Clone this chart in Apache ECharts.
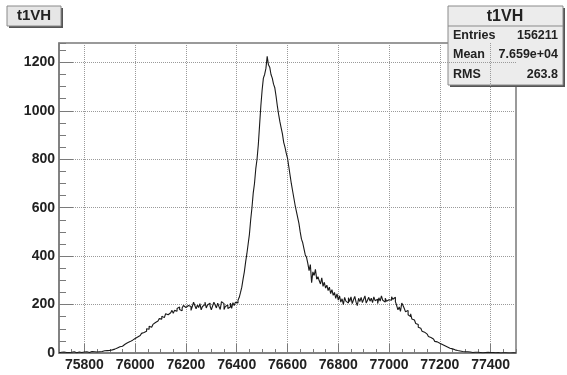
<!DOCTYPE html>
<html>
<head>
    <meta charset="utf-8">
    <title>t1VH</title>
    <script src="https://cdn.jsdelivr.net/npm/echarts@6/dist/echarts.min.js"></script>
    <style>html,body{margin:0;padding:0;background:#fff}</style>
</head>
<body>
    <div id="main" style="width:567px;height:375px"></div>
    <script type="text/javascript">
        // histogram data (bin width 5)
        var histName = 't1VH';
        var binStart = 75700;
        var binWidth = 5;
        var counts = [
            // 75700 - 75800
            1, 3, 2, 4, 1, 2, 3, 2, 4, 3, 2, 5, 3, 1, 2, 4, 1, 2, 3, 4,
            // 75800 - 75900
            3, 5, 4, 2, 5, 6, 3, 5, 7, 4, 6, 5, 8, 6, 5, 9, 7, 10, 8, 11,
            // 75900 - 76000
            10, 13, 12, 16, 15, 21, 22, 26, 25, 28, 30, 36, 34, 42, 43, 47, 49, 53, 55, 60,
            // 76000 - 76100
            58, 66, 68, 72, 71, 81, 85, 91, 90, 100, 98, 110, 106, 114, 118, 126, 124, 132, 130, 142,
            // 76100 - 76200
            140, 152, 146, 154, 162, 158, 150, 166, 168, 176, 164, 176, 172, 184, 190, 180, 174, 186, 196, 188,
            // 76200 - 76300
            180, 196, 204, 192, 176, 192, 210, 196, 182, 198, 188, 204, 178, 192, 200, 210, 186, 198, 206, 194,
            // 76300 - 76400
            178, 194, 210, 198, 186, 206, 192, 180, 212, 204, 180, 192, 198, 184, 190, 206, 184, 208, 196, 210,
            // 76400 - 76500
            206, 218, 230, 250, 272, 305, 335, 375, 410, 450, 490, 550, 600, 660, 700, 760, 800, 860, 940, 1020,
            // 76500 - 76600
            1085, 1135, 1150, 1175, 1225, 1190, 1180, 1150, 1135, 1110, 1095, 1060, 1020, 985, 955, 930, 905, 870, 850, 825,
            // 76600 - 76700
            805, 770, 735, 700, 670, 640, 610, 585, 560, 535, 500, 470, 455, 430, 405, 395, 370, 340, 365, 290,
            // 76700 - 76800
            335, 320, 345, 305, 315, 298, 285, 310, 275, 292, 268, 280, 258, 272, 245, 262, 238, 250, 226, 244,
            // 76800 - 76900
            218, 236, 210, 224, 200, 230, 214, 206, 228, 212, 232, 204, 220, 234, 210, 196, 226, 212, 230, 208,
            // 76900 - 77000
            222, 236, 206, 218, 230, 214, 226, 208, 232, 216, 222, 204, 228, 214, 236, 218, 210, 226, 214, 220,
            // 77000 - 77100
            226, 218, 232, 222, 230, 212, 196, 178, 190, 172, 206, 196, 184, 170, 176, 158, 150, 162, 140, 136,
            // 77100 - 77200
            130, 122, 118, 106, 102, 96, 90, 86, 82, 78, 72, 68, 64, 60, 58, 54, 48, 46, 42, 40,
            // 77200 - 77300
            38, 35, 32, 30, 27, 25, 22, 20, 18, 17, 15, 13, 12, 10, 9, 8, 8, 6, 6, 5,
            // 77300 - 77400
            4, 5, 3, 4, 3, 2, 4, 3, 2, 3, 2, 2, 3, 1, 2, 2, 1, 3, 1, 2,
            // 77400 - 77500
            1, 2, 1, 1, 0, 2, 1, 0, 1, 1, 0, 1, 0, 0, 1, 0, 0, 1, 0, 0
        ];
        var xTicks = [75800, 76000, 76200, 76400, 76600, 76800, 77000, 77200, 77400];
        var yTicks = [0, 200, 400, 600, 800, 1000, 1200];
        var statLabels = ['Entries', 'Mean', 'RMS'];
        var statValues = ['156211', '7.659e+04', '263.8'];

        var xMin = 75700, xMax = 77500, yMax = 1280;
        var frameColor = '#7a7a7a';
        var textColor = '#222';

        // step points at left bin edges, plus closing edge
        var points = [];
        for (var i = 0; i < counts.length; i++) {
            points.push([binStart + i * binWidth, counts[i]]);
        }
        points.push([binStart + counts.length * binWidth, counts[counts.length - 1]]);

        var plain = function (v) { return String(v); };

        var myChart = echarts.init(document.getElementById('main'));

        var statGraphics = [];
        for (var k = 0; k < statLabels.length; k++) {
            statGraphics.push({
                type: 'text', left: 453, top: 29 + k * 19.5,
                style: { text: statLabels[k], font: 'bold 12.5px "Liberation Sans", Arial', fill: textColor }
            });
            statGraphics.push({
                type: 'text', right: 567 - 558, top: 29 + k * 19.5,
                style: { text: statValues[k], font: 'bold 12.5px "Liberation Sans", Arial', fill: textColor, align: 'right' }
            });
        }

        var option = {
            animation: false,
            backgroundColor: '#fff',
            grid: {
                left: 59, top: 43, width: 457, height: 310,
                show: true, borderColor: frameColor, borderWidth: 1.5, backgroundColor: '#fff'
            },
            xAxis: [{
                type: 'value', min: xMin, max: xMax, interval: 50,
                axisLine: { show: true, lineStyle: { color: frameColor, width: 1.5 } },
                axisTick: { show: true, inside: true, length: 4, lineStyle: { color: frameColor } },
                axisLabel: { show: false },
                splitLine: { show: false }
            }, {
                type: 'value', position: 'bottom', min: xMin, max: xMax, interval: 50,
                axisLine: { show: false },
                axisTick: { show: true, inside: true, length: 9, customValues: xTicks, lineStyle: { color: frameColor } },
                axisLabel: {
                    customValues: xTicks, formatter: plain, margin: 5,
                    color: textColor, fontSize: 14, fontWeight: 'bold', fontFamily: 'Liberation Sans'
                },
                splitLine: { show: true, lineStyle: { type: 'dotted', color: '#9a9a9a', width: 1 } }
            }],
            yAxis: [{
                type: 'value', min: 0, max: yMax, interval: 50,
                axisLine: { show: true, lineStyle: { color: frameColor, width: 1.5 } },
                axisTick: { show: true, inside: true, length: 7, lineStyle: { color: frameColor } },
                axisLabel: { show: false },
                splitLine: { show: false }
            }, {
                type: 'value', position: 'left', min: 0, max: yMax, interval: 50,
                axisLine: { show: false },
                axisTick: { show: true, inside: true, length: 14, customValues: yTicks, lineStyle: { color: frameColor } },
                axisLabel: {
                    customValues: yTicks, formatter: plain, margin: 4,
                    color: textColor, fontSize: 14, fontWeight: 'bold', fontFamily: 'Liberation Sans'
                },
                splitLine: { show: true, lineStyle: { type: 'dotted', color: '#9a9a9a', width: 1 } }
            }],
            series: [{
                name: histName,
                type: 'line',
                xAxisIndex: 0, yAxisIndex: 0,
                step: 'end',
                symbol: 'none',
                data: points,
                lineStyle: { color: '#1a1a1a', width: 1.1 },
                z: 5
            }],
            graphic: [
                // title pave
                { type: 'rect', shape: { x: 9, y: 8, width: 54, height: 20 }, style: { fill: '#555' } },
                { type: 'rect', shape: { x: 7, y: 6, width: 54, height: 20 }, style: { fill: '#e6e6e6', stroke: '#8a8a8a', lineWidth: 1 } },
                { type: 'text', x: 34, y: 16, style: { text: histName, font: 'bold 15px "Liberation Sans", Arial', fill: textColor, align: 'center', verticalAlign: 'middle' } },
                // stats box
                { type: 'rect', shape: { x: 450, y: 8, width: 115, height: 79 }, style: { fill: '#555' } },
                { type: 'rect', shape: { x: 448, y: 6, width: 115, height: 79 }, style: { fill: '#ececec', stroke: '#8a8a8a', lineWidth: 1 } },
                { type: 'line', shape: { x1: 448, y1: 26, x2: 563, y2: 26 }, style: { stroke: '#8a8a8a', lineWidth: 1 } },
                { type: 'text', x: 505, y: 16.5, style: { text: histName, font: 'bold 16px "Liberation Sans", Arial', fill: textColor, align: 'center', verticalAlign: 'middle' } }
            ].concat(statGraphics)
        };

        myChart.setOption(option);
    </script>
</body>
</html>
